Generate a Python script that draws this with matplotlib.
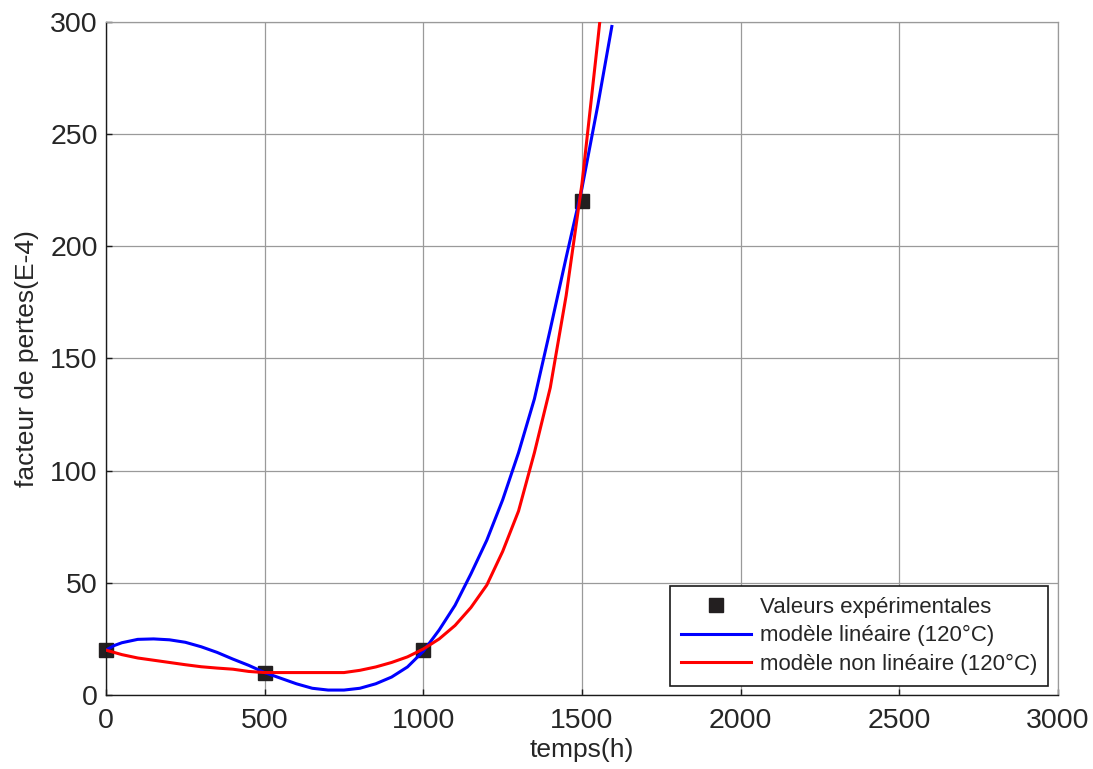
import matplotlib
matplotlib.use("Agg")
import matplotlib.pyplot as plt

plt.rcParams['font.family'] = ['Liberation Sans', 'DejaVu Sans']

# Experimental points
t_exp = [0, 500, 1000, 1500]
f_exp = [20, 10, 20, 220]

# Linear model (120 °C)
t_lin = [0, 25, 50, 100, 150, 200, 250, 300, 350, 400, 450, 500, 550, 600, 650,
         700, 750, 800, 850, 900, 950, 1000, 1050, 1100, 1150, 1200, 1250, 1300,
         1350, 1400, 1450, 1500, 1550, 1594]
f_lin = [20, 22, 23.3, 24.8, 25, 24.6, 23.5, 21.5, 19, 16, 13.2, 10, 7.5, 5, 3,
         2.2, 2.2, 3, 5, 8, 12.5, 19.5, 29, 40, 54, 69, 87, 108,
         132, 163, 195, 226, 263, 298]

# Non-linear model (120 °C)
t_nl = [0, 50, 100, 150, 200, 250, 300, 350, 400, 450, 500, 550, 600, 650, 700,
        750, 800, 850, 900, 950, 1000, 1050, 1100, 1150, 1200, 1250, 1300, 1350,
        1400, 1450, 1500, 1550, 1556]
f_nl = [20, 18, 16.5, 15.5, 14.5, 13.5, 12.6, 12, 11.5, 10.5, 10, 10, 10, 10, 10,
        10, 11, 12.5, 14.5, 17, 20.5, 25, 31, 39, 49, 64, 82, 108,
        137, 178, 228, 292, 300]

x_ticks = [0, 500, 1000, 1500, 2000, 2500, 3000]
y_ticks = [0, 50, 100, 150, 200, 250, 300]

text_color = '#262626'

fig = plt.figure(figsize=(10.93, 7.69), dpi=100)
ax = fig.add_axes([106 / 1093, 1 - 695 / 769, (1058 - 106) / 1093, (695 - 22) / 769])

ax.plot(t_exp, f_exp, linestyle='none', marker='s', markersize=10,
        color='#231f20', label='Valeurs expérimentales', zorder=2, clip_on=False)
ax.plot(t_lin, f_lin, color='#0000ff', linewidth=2.2,
        label='modèle linéaire (120°C)', zorder=3)
ax.plot(t_nl, f_nl, color='#ff0000', linewidth=2.2,
        label='modèle non linéaire (120°C)', zorder=3)

ax.set_xlim(0, 3000)
ax.set_ylim(0, 300)
ax.set_xticks(x_ticks)
ax.set_yticks(y_ticks)
ax.grid(True, color='#9a9a9a', linewidth=0.9)
ax.set_axisbelow(True)

for side in ['top', 'right']:
    ax.spines[side].set_color('#9a9a9a')
    ax.spines[side].set_linewidth(0.9)
for side in ['left', 'bottom']:
    ax.spines[side].set_color('#1a1a1a')
    ax.spines[side].set_linewidth(1.0)

ax.tick_params(direction='in', length=4, width=1, colors='#1a1a1a',
               labelsize=20.5, labelcolor=text_color)
ax.tick_params(axis='x', pad=9)
ax.tick_params(axis='y', pad=6)

ax.set_xlabel('temps(h)', fontsize=19, color=text_color, labelpad=3)
ax.set_ylabel('facteur de pertes(E-4)', fontsize=19, color=text_color, labelpad=8)

leg = ax.legend(loc='lower right',
                bbox_to_anchor=((1048 - 106) / (1058 - 106), (695 - 686) / (695 - 22)),
                fontsize=16, frameon=True, fancybox=False, framealpha=1,
                edgecolor='#1a1a1a', handlelength=3.15, handletextpad=0.4,
                labelspacing=0.33, borderpad=0.5, borderaxespad=0.0)
leg.get_frame().set_linewidth(1.2)
for txt in leg.get_texts():
    txt.set_color(text_color)

fig.savefig('out.png', dpi=100)
